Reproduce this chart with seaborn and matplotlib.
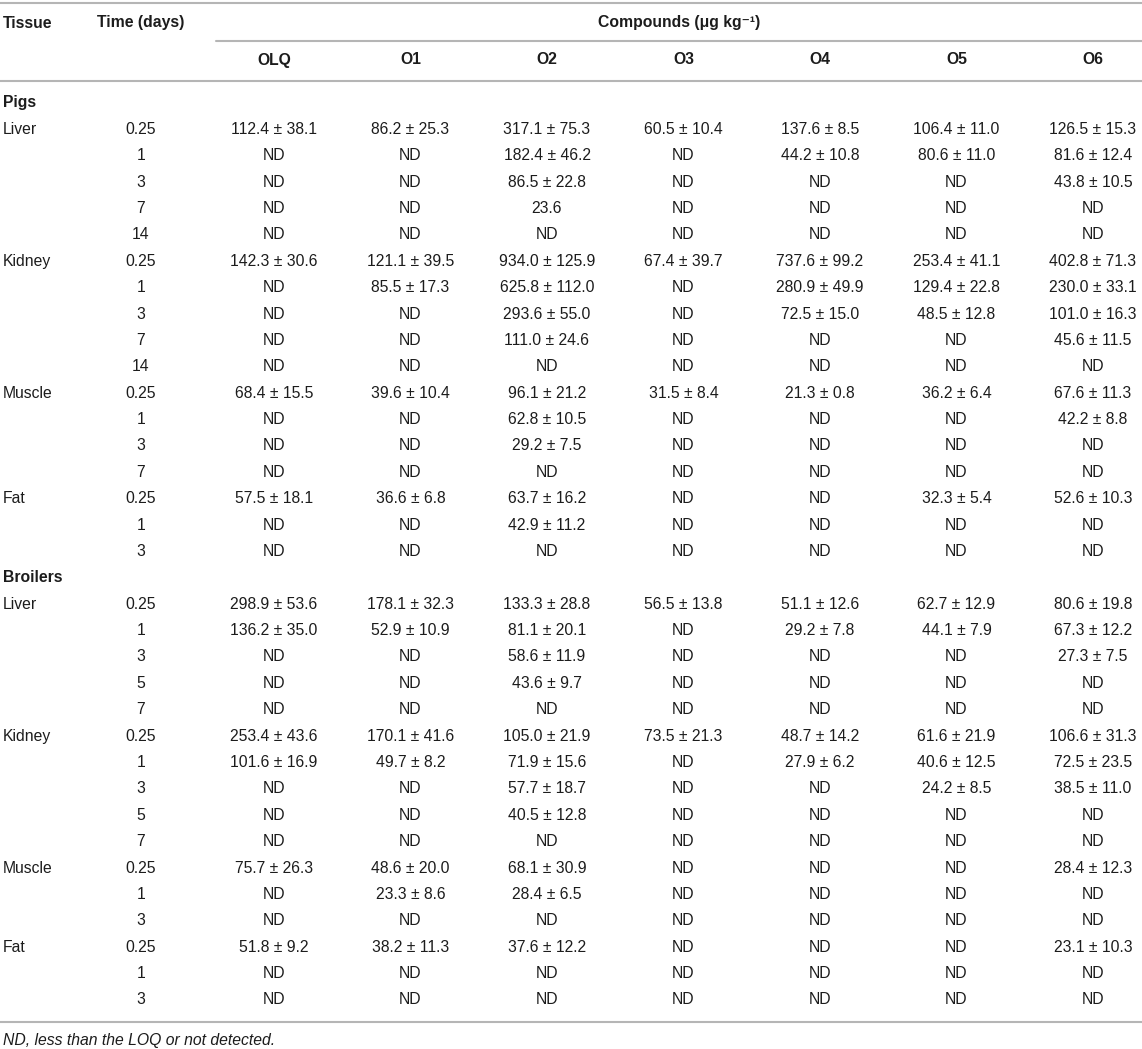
import numpy as np
import pandas as pd
import matplotlib
matplotlib.use("Agg")
import matplotlib.pyplot as plt
import seaborn as sns

N = np.nan

compounds = ["OLQ", "O1", "O2", "O3", "O4", "O5", "O6"]
species = ["Pigs", "Broilers"]
tissues = ["Liver", "Kidney", "Muscle", "Fat"]
pig_times = [["0.25", "1", "3", "7", "14"], ["0.25", "1", "3", "7", "14"],
             ["0.25", "1", "3", "7"], ["0.25", "1", "3"]]
broiler_times = [["0.25", "1", "3", "5", "7"], ["0.25", "1", "3", "5", "7"],
                 ["0.25", "1", "3"], ["0.25", "1", "3"]]

# mean / sd per compound, rows: pigs (liver, kidney, muscle, fat) then broilers; nan = ND
olq_mean = [112.4, N, N, N, N, 142.3, N, N, N, N, 68.4, N, N, N, 57.5, N, N,
            298.9, 136.2, N, N, N, 253.4, 101.6, N, N, N, 75.7, N, N, 51.8, N, N]
olq_sd = [38.1, N, N, N, N, 30.6, N, N, N, N, 15.5, N, N, N, 18.1, N, N,
          53.6, 35.0, N, N, N, 43.6, 16.9, N, N, N, 26.3, N, N, 9.2, N, N]
o1_mean = [86.2, N, N, N, N, 121.1, 85.5, N, N, N, 39.6, N, N, N, 36.6, N, N,
           178.1, 52.9, N, N, N, 170.1, 49.7, N, N, N, 48.6, 23.3, N, 38.2, N, N]
o1_sd = [25.3, N, N, N, N, 39.5, 17.3, N, N, N, 10.4, N, N, N, 6.8, N, N,
         32.3, 10.9, N, N, N, 41.6, 8.2, N, N, N, 20.0, 8.6, N, 11.3, N, N]
o2_mean = [317.1, 182.4, 86.5, 23.6, N, 934.0, 625.8, 293.6, 111.0, N, 96.1, 62.8, 29.2, N, 63.7, 42.9, N,
           133.3, 81.1, 58.6, 43.6, N, 105.0, 71.9, 57.7, 40.5, N, 68.1, 28.4, N, 37.6, N, N]
o2_sd = [75.3, 46.2, 22.8, N, N, 125.9, 112.0, 55.0, 24.6, N, 21.2, 10.5, 7.5, N, 16.2, 11.2, N,
         28.8, 20.1, 11.9, 9.7, N, 21.9, 15.6, 18.7, 12.8, N, 30.9, 6.5, N, 12.2, N, N]
o3_mean = [60.5, N, N, N, N, 67.4, N, N, N, N, 31.5, N, N, N, N, N, N,
           56.5, N, N, N, N, 73.5, N, N, N, N, N, N, N, N, N, N]
o3_sd = [10.4, N, N, N, N, 39.7, N, N, N, N, 8.4, N, N, N, N, N, N,
         13.8, N, N, N, N, 21.3, N, N, N, N, N, N, N, N, N, N]
o4_mean = [137.6, 44.2, N, N, N, 737.6, 280.9, 72.5, N, N, 21.3, N, N, N, N, N, N,
           51.1, 29.2, N, N, N, 48.7, 27.9, N, N, N, N, N, N, N, N, N]
o4_sd = [8.5, 10.8, N, N, N, 99.2, 49.9, 15.0, N, N, 0.8, N, N, N, N, N, N,
         12.6, 7.8, N, N, N, 14.2, 6.2, N, N, N, N, N, N, N, N, N]
o5_mean = [106.4, 80.6, N, N, N, 253.4, 129.4, 48.5, N, N, 36.2, N, N, N, 32.3, N, N,
           62.7, 44.1, N, N, N, 61.6, 40.6, 24.2, N, N, N, N, N, N, N, N]
o5_sd = [11.0, 11.0, N, N, N, 41.1, 22.8, 12.8, N, N, 6.4, N, N, N, 5.4, N, N,
         12.9, 7.9, N, N, N, 21.9, 12.5, 8.5, N, N, N, N, N, N, N, N]
o6_mean = [126.5, 81.6, 43.8, N, N, 402.8, 230.0, 101.0, 45.6, N, 67.6, 42.2, N, N, 52.6, N, N,
           80.6, 67.3, 27.3, N, N, 106.6, 72.5, 38.5, N, N, 28.4, N, N, 23.1, N, N]
o6_sd = [15.3, 12.4, 10.5, N, N, 71.3, 33.1, 16.3, 11.5, N, 11.3, 8.8, N, N, 10.3, N, N,
         19.8, 12.2, 7.5, N, N, 31.3, 23.5, 11.0, N, N, 12.3, N, N, 10.3, N, N]

footnote = "ND, less than the LOQ or not detected."


def fmt(m, s):
    if np.isnan(m):
        return "ND"
    if np.isnan(s):
        return f"{m:.1f}"
    return f"{m:.1f} \u00b1 {s:.1f}"


means = [olq_mean, o1_mean, o2_mean, o3_mean, o4_mean, o5_mean, o6_mean]
sds = [olq_sd, o1_sd, o2_sd, o3_sd, o4_sd, o5_sd, o6_sd]

# build the display rows (section header rows + data rows)
rows = []
k = 0
for sp, times_list in zip(species, [pig_times, broiler_times]):
    rows.append({"kind": "section", "label": sp})
    for tissue, times in zip(tissues, times_list):
        for j, t in enumerate(times):
            cells = [fmt(m[k], s[k]) for m, s in zip(means, sds)]
            rows.append({"kind": "data", "label": tissue if j == 0 else "", "time": t, "cells": cells})
            k += 1
table = pd.DataFrame(rows)

sns.set_theme(style="white")
plt.rcParams['font.family'] = ['Liberation Sans', 'DejaVu Sans']

W, H = 1142, 1049
fig = plt.figure(figsize=(W / 100, H / 100), dpi=100)
ax = fig.add_axes([0, 0, 1, 1])
ax.set_xlim(0, W)
ax.set_ylim(H, 0)
ax.axis("off")

txt = "#1c1c1c"
line_c = "#b5b5b5"
fs = 11.3
x_tissue, x_time, x_time_hdr = 3, 141, 97
col_x0, col_step = 274, 136.5
col_x = [col_x0 + i * col_step for i in range(len(compounds))]
row_y0, row_step = 103, 26.38

ax.plot([0, W], [3, 3], color=line_c, lw=1.5)
ax.plot([216, W], [41, 41], color=line_c, lw=1.5)
ax.plot([0, W], [81, 81], color=line_c, lw=1.5)
ax.plot([0, W], [1022, 1022], color=line_c, lw=1.5)

ax.text(x_tissue, 23, "Tissue", fontsize=fs, fontweight="bold", color=txt, va="center", ha="left")
ax.text(x_time_hdr, 23, "Time (days)", fontsize=fs, fontweight="bold", color=txt, va="center", ha="left")
ax.text((216 + W) / 2, 23, "Compounds (\u03bcg kg\u207b\u00b9)", fontsize=fs, fontweight="bold",
        color=txt, va="center", ha="center")
for name, x in zip(compounds, col_x):
    ax.text(x, 60, name, fontsize=fs, fontweight="bold", color=txt, va="center", ha="center")

for i, r in table.iterrows():
    y = row_y0 + i * row_step
    if r["kind"] == "section":
        ax.text(x_tissue, y, r["label"], fontsize=fs, fontweight="bold", color=txt, va="center", ha="left")
        continue
    if r["label"]:
        ax.text(x_tissue, y, r["label"], fontsize=fs, color=txt, va="center", ha="left")
    ax.text(x_time, y, r["time"], fontsize=fs, color=txt, va="center", ha="center")
    for x, c in zip(col_x, r["cells"]):
        ax.text(x, y, c, fontsize=fs, color=txt, va="center", ha="center")

ax.text(x_tissue, 1040, footnote, fontsize=fs, style="italic", color=txt, va="center", ha="left")

fig.savefig("out.png", dpi=100)
